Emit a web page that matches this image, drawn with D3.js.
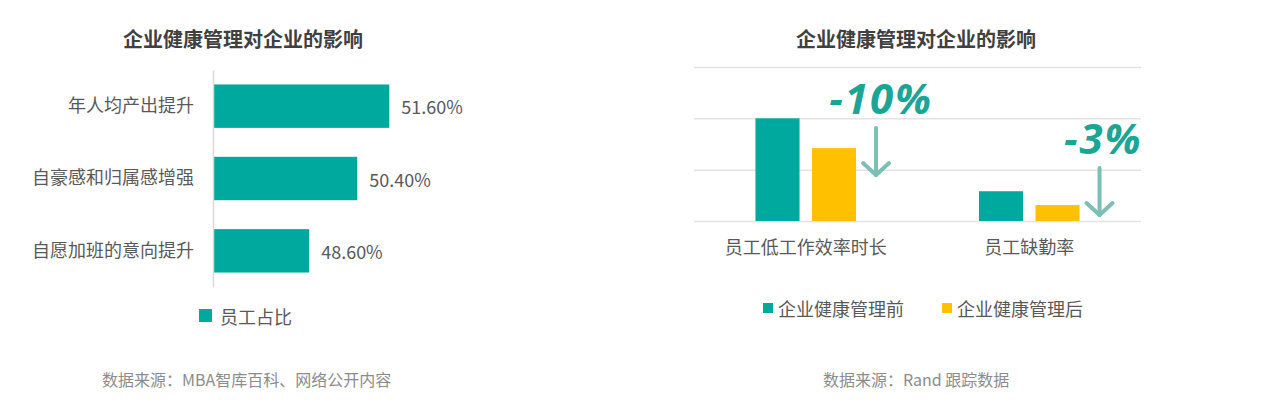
<!DOCTYPE html>
<html>
<head>
<meta charset="utf-8">
<script src="https://cdn.jsdelivr.net/npm/d3@7"></script>
<style>
  body { margin: 0; background: #fff; }
  svg { display: block; font-family: "Noto Sans CJK SC", "Noto Sans", sans-serif; }
</style>
</head>
<body>
<svg id="chart" width="1264" height="418"></svg>
<script>
// left chart
const leftTitle = "企业健康管理对企业的影响";
const leftCategories = ["年人均产出提升", "自豪感和归属感增强", "自愿加班的意向提升"];
const leftValues = [51.6, 50.4, 48.6];
const leftSeries = "员工占比";
const leftSource = "数据来源：MBA智库百科、网络公开内容";

// right chart
const rightTitle = "企业健康管理对企业的影响";
const rightCategories = ["员工低工作效率时长", "员工缺勤率"];
const rightSeries = ["企业健康管理前", "企业健康管理后"];
const rightBefore = [2.0, 0.58];
const rightAfter = [1.42, 0.31];
const rightChanges = ["-10%", "-3%"];
const rightTicks = [0, 1, 2, 3];
const rightSource = "数据来源：Rand 跟踪数据";

const TEAL = "#00a99d";
const YELLOW = "#ffc000";
const TEXT = "#595959";
const ARROW = "#7bbfb5";

const svg = d3.select("#chart");

// ---------- left: horizontal bars ----------
const L = svg.append("g").attr("class", "left");

const x = d3.scaleLinear().domain([45, 52]).range([213, 400]);
const y = d3.scaleBand()
  .domain(leftCategories)
  .range([70, 287])
  .paddingInner(0.4)
  .paddingOuter(0.2);

L.append("text")
  .attr("x", 243).attr("y", 38)
  .attr("text-anchor", "middle").attr("dominant-baseline", "central")
  .attr("font-size", 20).attr("font-weight", "bold").attr("fill", "#404040")
  .text(leftTitle);

L.selectAll(".bar")
  .data(leftValues)
  .enter()
  .append("rect")
  .attr("class", "bar")
  .attr("x", x(45))
  .attr("y", (d, i) => y(leftCategories[i]))
  .attr("width", (d) => x(d) - x(45))
  .attr("height", y.bandwidth())
  .attr("fill", TEAL);

const yAxis = L.append("g")
  .attr("transform", `translate(${x(45)},0)`)
  .call(d3.axisLeft(y).tickSize(0).tickPadding(19));
yAxis.select(".domain").attr("stroke", "#d9d9d9").attr("stroke-width", 1.5);
yAxis.selectAll("text")
  .attr("font-size", 18).attr("fill", TEXT)
  .attr("font-family", "Noto Sans CJK SC, sans-serif");

L.selectAll(".val")
  .data(leftValues)
  .enter()
  .append("text")
  .attr("class", "val")
  .attr("x", (d) => x(d) + 12)
  .attr("y", (d, i) => y(leftCategories[i]) + y.bandwidth() / 2)
  .attr("dominant-baseline", "central")
  .attr("font-size", 18).attr("fill", TEXT)
  .text((d) => d.toFixed(2) + "%");

const leftLegend = L.append("g").attr("transform", "translate(199,309)");
leftLegend.append("rect").attr("width", 13).attr("height", 13).attr("fill", TEAL);
leftLegend.append("text")
  .attr("x", 21).attr("y", 7)
  .attr("dominant-baseline", "central")
  .attr("font-size", 18).attr("fill", TEXT)
  .text(leftSeries);

L.append("text")
  .attr("x", 102).attr("y", 379)
  .attr("dominant-baseline", "central")
  .attr("font-size", 16).attr("fill", "#8c8c8c")
  .text(leftSource);

// ---------- right: grouped columns ----------
const R = svg.append("g").attr("class", "right");

const x0 = d3.scaleBand()
  .domain(rightCategories)
  .range([694, 1141])
  .paddingInner(0.55)
  .paddingOuter(0.275);
const x1 = d3.scaleBand()
  .domain(rightSeries)
  .range([0, x0.bandwidth()])
  .paddingInner(0.22);
const yR = d3.scaleLinear().domain([0, 3]).range([221, 67]);

R.append("text")
  .attr("x", 916).attr("y", 38)
  .attr("text-anchor", "middle").attr("dominant-baseline", "central")
  .attr("font-size", 20).attr("font-weight", "bold").attr("fill", "#404040")
  .text(rightTitle);

R.append("g")
  .attr("transform", "translate(694,0)")
  .call(d3.axisLeft(yR).tickValues(rightTicks).tickSize(-447).tickFormat(""))
  .call((g) => g.select(".domain").remove())
  .call((g) => g.selectAll(".tick line").attr("stroke", "#e3e3e3").attr("stroke-width", 1.5));

const rows = rightCategories.map((c, i) => ({ cat: c, vals: [rightBefore[i], rightAfter[i]] }));
const colors = d3.scaleOrdinal().domain(rightSeries).range([TEAL, YELLOW]);

R.selectAll(".grp")
  .data(rows)
  .enter()
  .append("g")
  .attr("class", "grp")
  .attr("transform", (d) => `translate(${x0(d.cat)},0)`)
  .selectAll("rect")
  .data((d) => d.vals.map((v, j) => ({ s: rightSeries[j], v: v })))
  .enter()
  .append("rect")
  .attr("x", (d) => x1(d.s))
  .attr("y", (d) => yR(d.v))
  .attr("width", x1.bandwidth())
  .attr("height", (d) => yR(0) - yR(d.v))
  .attr("fill", (d) => colors(d.s));

R.append("g")
  .attr("transform", `translate(0,${yR(0)})`)
  .call(d3.axisBottom(x0).tickSize(0).tickPadding(20))
  .call((g) => g.select(".domain").remove())
  .call((g) => g.selectAll("text").attr("font-size", 18).attr("fill", TEXT)
    .attr("font-family", "Noto Sans CJK SC, sans-serif"));

// change annotations: label, then a down arrow just right of the "after" bar
const labelY = [97, 137];
rows.forEach((d, i) => {
  const ax = x0(d.cat) + x0.bandwidth() + 20;
  const top = labelY[i] + 31;
  const bottom = top + 47;
  R.append("line")
    .attr("x1", ax).attr("x2", ax)
    .attr("y1", top).attr("y2", bottom)
    .attr("stroke", ARROW).attr("stroke-width", 4).attr("stroke-linecap", "round");
  R.append("path")
    .attr("d", `M${ax - 13},${bottom - 12} L${ax},${bottom} L${ax + 13},${bottom - 12}`)
    .attr("fill", "none").attr("stroke", ARROW).attr("stroke-width", 4)
    .attr("stroke-linecap", "round").attr("stroke-linejoin", "round");
  R.append("text")
    .attr("x", i === 0 ? ax + 57 : ax + 43)
    .attr("y", labelY[i])
    .attr("text-anchor", "end").attr("dominant-baseline", "central")
    .attr("font-family", "Open Sans, sans-serif")
    .attr("font-size", 42).attr("font-weight", "bold").attr("font-style", "italic")
    .attr("letter-spacing", 2)
    .attr("fill", "#1aa595")
    .text(rightChanges[i]);
});

const rightLegend = R.append("g").attr("transform", "translate(763,303)");
const legendX = [0, 179];
rightSeries.forEach((s, j) => {
  const g = rightLegend.append("g").attr("transform", `translate(${legendX[j]},0)`);
  g.append("rect").attr("width", 10).attr("height", 10).attr("fill", colors(s));
  g.append("text")
    .attr("x", 15).attr("y", 5)
    .attr("dominant-baseline", "central")
    .attr("font-size", 18).attr("fill", TEXT)
    .text(s);
});

R.append("text")
  .attr("x", 823).attr("y", 379)
  .attr("dominant-baseline", "central")
  .attr("font-size", 16).attr("fill", "#8c8c8c")
  .text(rightSource);
</script>
</body>
</html>
